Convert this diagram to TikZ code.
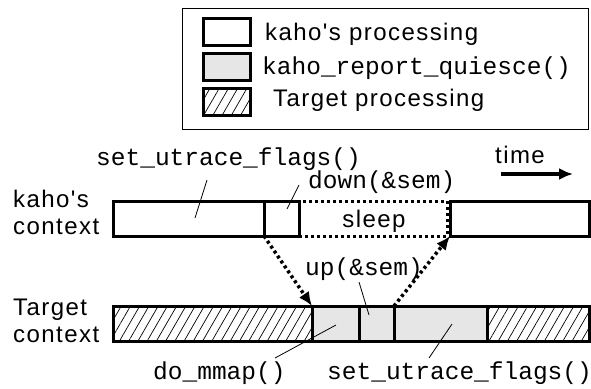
\documentclass[tikz,border=0pt]{standalone}
\usepackage{fontspec}
\setmainfont{Liberation Sans}
\newfontfamily\labelfont[LetterSpace=6]{Liberation Sans}
\setmonofont{Liberation Mono}
\usetikzlibrary{patterns.meta,arrows.meta}

\definecolor{callgray}{HTML}{E6E6E6}

\begin{document}
\begin{tikzpicture}[x=1pt,y=-1pt,
  seg/.style={draw,line width=3pt,inner sep=0pt,outer sep=0pt,anchor=north west,minimum height=35pt},
  own/.style={seg,fill=white},
  callseg/.style={seg,fill=callgray},
  hatched/.style={seg,pattern={Lines[angle=60,distance=8pt,line width=0.7pt]}},
  sleepseg/.style={seg,dash pattern=on 3pt off 3pt},
  swatch/.style={draw,line width=3pt,inner sep=0pt,outer sep=0pt,anchor=north west,minimum width=47pt,minimum height=27pt},
  sanslbl/.style={font=\fontsize{24}{28}\labelfont,inner sep=0pt,anchor=base west},
  monolbl/.style={font=\fontsize{24.5}{28}\ttfamily,inner sep=0pt,anchor=base west},
  leader/.style={line width=0.8pt},
  handoff/.style={line width=3.5pt,dash pattern=on 3pt off 3pt,-{Latex[length=14pt,width=12pt]}}
]
\useasboundingbox (0,0) rectangle (591,388);

% legend
\node[draw,line width=1pt,inner sep=0pt,outer sep=0pt,anchor=north west,minimum width=406pt,minimum height=121pt] (legend) at (182,8) {};
\node[swatch,fill=white] (swA) at (203,18) {};
\node[swatch,fill=callgray] (swB) at (203,53) {};
\node[swatch,pattern={Lines[angle=60,distance=8pt,line width=0.7pt]}] (swC) at (203,88) {};
\node[sanslbl] (lgA) at (265,40) {kaho's processing};
\node[monolbl] (lgB) at (262,74) {kaho\_report\_quiesce()};
\node[sanslbl] (lgC) at (273,106) {Target processing};

% row labels
\node[sanslbl] (kl1) at (13,207) {kaho's};
\node[sanslbl] (kl2) at (13,234) {context};
\node[sanslbl] (tl1) at (13,315) {Target};
\node[sanslbl] (tl2) at (13,342) {context};

% kaho's context
\node[sleepseg,minimum width=148pt] (sleep) at (299,201) {};
\node[font=\fontsize{24}{28}\labelfont,inner sep=0pt,anchor=base] (sleeptxt) at (374,227) {sleep};
\node[own,minimum width=151pt] (ka) at (113,201) {};
\node[own,minimum width=35pt] (kb) at (264,201) {};
\node[own,minimum width=139pt] (kc) at (450,201) {};

% target context
\node[hatched,minimum width=199pt] (th1) at (113,306) {};
\node[callseg,minimum width=47pt] (g1) at (312,306) {};
\node[callseg,minimum width=35pt] (g2) at (359,306) {};
\node[callseg,minimum width=93pt] (g3) at (394,306) {};
\node[hatched,minimum width=102pt] (th2) at (487,306) {};

% hand-off between the two contexts
\draw[handoff] (ka.south east) -- (th1.north east);
\draw[handoff] (g3.north west) -- (kc.south west);

% time direction
\node[sanslbl] (time) at (495,163) {time};
\coordinate (tA) at (501,174);
\coordinate (tB) at (573,174);
\draw[line width=4pt,-{Latex[length=14pt,width=12pt]}] (tA) -- (tB);

% call labels with leader lines
\node[monolbl] (suf1) at (96,165) {set\_utrace\_flags()};
\node[monolbl] (dsem) at (308,188) {down(\&sem)};
\node[monolbl] (usem) at (305,275) {up(\&sem)};
\node[monolbl] (mmap) at (153,379) {do\_mmap()};
\node[monolbl] (suf2) at (327,379) {set\_utrace\_flags()};

\coordinate (p1a) at (207,180); \coordinate (p1b) at (195,218);
\coordinate (p2a) at (299,185); \coordinate (p2b) at (287,209);
\coordinate (p3a) at (359,282); \coordinate (p3b) at (369,315);
\coordinate (p4a) at (336,325); \coordinate (p4b) at (275,358);
\coordinate (p5a) at (452,324); \coordinate (p5b) at (429,358);
\draw[leader] (p1a) -- (p1b);
\draw[leader] (p2a) -- (p2b);
\draw[leader] (p3a) -- (p3b);
\draw[leader] (p4a) -- (p4b);
\draw[leader] (p5a) -- (p5b);
\end{tikzpicture}
\end{document}
